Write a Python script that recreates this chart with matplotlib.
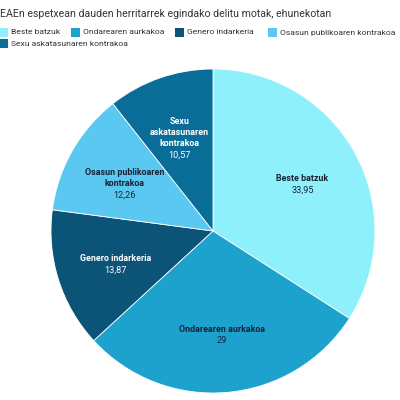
import matplotlib.pyplot as plt
from matplotlib.patches import Rectangle
import numpy as np

plt.rcParams['font.family'] = ['Roboto', 'DejaVu Sans']

title = "EAEn espetxean dauden herritarrek egindako delitu motak, ehunekotan"
categories = ["Beste batzuk", "Ondarearen aurkakoa", "Genero indarkeria",
              "Osasun publikoaren kontrakoa", "Sexu askatasunaren kontrakoa"]
slice_labels = ["Beste batzuk", "Ondarearen aurkakoa", "Genero indarkeria",
                "Osasun publikoaren\nkontrakoa", "Sexu\naskatasunaren\nkontrakoa"]
values = [33.95, 29, 13.87, 12.26, 10.57]
value_labels = ["33,95", "29", "13,87", "12,26", "10,57"]

colors = ["#8ef0fa", "#1ca2cc", "#0b5478", "#5ac8f0", "#0a6d97"]
text_colors = ["#1a2238", "#1a2238", "white", "#1a2238", "white"]

fig = plt.figure(figsize=(4, 4), dpi=100)
fig.patch.set_facecolor("white")

# pie axes: center ~ (213, 231) px, radius ~ 162 px
cx, cy, r = 213 / 400, 1 - 231 / 400, 162 / 400
ax = fig.add_axes([cx - r, cy - r, 2 * r, 2 * r])
wedges, _ = ax.pie(values, colors=colors, startangle=90, counterclock=False,
                   wedgeprops=dict(edgecolor="white", linewidth=0.6))
ax.set_xlim(-1, 1)
ax.set_ylim(-1, 1)
ax.set_aspect("equal")
ax.axis("off")

for w, lab, val, tc in zip(wedges, slice_labels, value_labels, text_colors):
    ang = np.deg2rad((w.theta1 + w.theta2) / 2)
    n = lab.count("\n") + 1
    x = 0.63 * np.cos(ang)
    y = 0.63 * np.sin(ang) - 0.018 - 0.04 * (n - 1)
    ax.text(x, y + 0.012, lab, ha="center", va="bottom", fontsize=6.4,
            fontweight="bold", color=tc, linespacing=1.3)
    ax.text(x, y - 0.004, val, ha="center", va="top", fontsize=6.6, color=tc)

# title
fig.text(0.0, 1 - 14 / 400, title, ha="left", va="center", fontsize=7.6, color="#333333")

# legend
legend_pos = [(-1, 32.5), (71, 32.5), (175, 32.5), (268, 32.5), (-1, 43.5)]
for (px, py), cat, col in zip(legend_pos, categories, colors):
    fig.patches.append(Rectangle((px / 400, 1 - (py + 4.5) / 400), 9 / 400, 9 / 400,
                                 transform=fig.transFigure, facecolor=col,
                                 edgecolor="none"))
    fig.text((px + 12) / 400, 1 - py / 400, cat, ha="left", va="center",
             fontsize=6.1, color="#333333")

fig.savefig("out.png", dpi=100)
